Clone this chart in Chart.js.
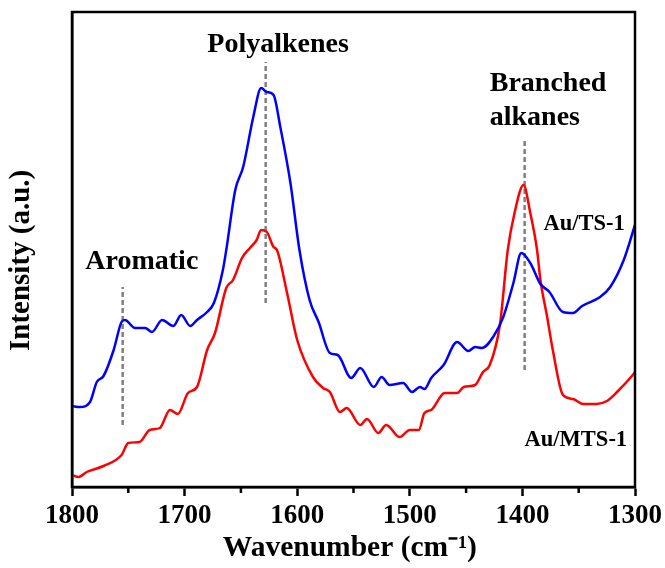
<!DOCTYPE html>
<html>
<head>
<meta charset="utf-8">
<script src="https://cdn.jsdelivr.net/npm/chart.js@4.4.0/dist/chart.umd.min.js"></script>
<style>
  html, body { margin: 0; padding: 0; background: #fff; }
</style>
</head>
<body>
<canvas id="chartIR" width="665" height="568"></canvas>
<script>
/* IR spectra Au/TS-1 vs Au/MTS-1 */
const serif = "'Liberation Serif', 'Times New Roman', serif";

// Au/TS-1 (blue)
const tsWave = [1800, 1793, 1784, 1778, 1772, 1763, 1756, 1753, 1744, 1735, 1729, 1720, 1710, 1703, 1695, 1689,
  1680, 1674, 1666, 1663, 1655, 1648, 1639, 1632, 1627, 1621, 1615, 1606, 1598, 1589, 1581, 1571, 1564, 1552,
  1544, 1532, 1525, 1518, 1506, 1498, 1491, 1487, 1481, 1470, 1458, 1448, 1442, 1436, 1426, 1417, 1408, 1401,
  1393, 1384, 1376, 1364, 1355, 1347, 1331, 1322, 1310, 1300];
const tsInt = [81, 80, 85, 105, 111, 137, 165, 167, 159, 159, 155, 167, 161, 172, 161, 167,
  175, 184, 217, 237, 297, 320, 370, 399, 395, 392, 360, 304, 237, 187, 165, 134, 132, 109,
  119, 100, 110, 102, 104, 95, 100, 98, 109, 122, 145, 136, 140, 139, 150, 170, 204, 234,
  224, 203, 195, 175, 174, 181, 190, 200, 227, 262];

// Au/MTS-1 (red)
const mtsWave = [1800, 1794, 1787, 1772, 1756, 1750, 1740, 1731, 1722, 1713, 1706, 1697, 1689, 1680, 1673, 1663,
  1657, 1649, 1642, 1636, 1632, 1627, 1621, 1618, 1609, 1600, 1586, 1577, 1571, 1562, 1556, 1544, 1538, 1528,
  1521, 1509, 1500, 1492, 1487, 1481, 1469, 1458, 1452, 1442, 1435, 1429, 1420, 1413, 1407, 1399, 1393, 1387,
  1384, 1378, 1373, 1364, 1355, 1346, 1334, 1325, 1316, 1302, 1300];
const mtsInt = [12, 10, 15, 21, 32, 44, 45, 57, 59, 77, 73, 94, 100, 137, 154, 199,
  207, 229, 239, 247, 257, 255, 240, 237, 194, 147, 110, 99, 95, 75, 79, 62, 68, 54,
  62, 50, 57, 57, 74, 77, 94, 94, 100, 102, 115, 122, 162, 237, 274, 302, 274, 237,
  207, 170, 137, 92, 88, 83, 83, 86, 95, 112, 115];

// band markers
const bandNames = ['Aromatic', 'Polyalkenes', 'Branched alkanes'];
const bandWave = [1755, 1628, 1398];
const bandFrom = [62, 184, 117];
const bandTo = [200, 425, 347];

const xTicks = [1800, 1700, 1600, 1500, 1400, 1300];
const minorTicks = [1750, 1650, 1550, 1450, 1350];

const toPoints = (w, v) => w.map((x, i) => ({ x: x, y: v[i] }));

let datasets = [
  { label: 'Au/TS-1', data: toPoints(tsWave, tsInt), borderColor: '#0000ff', borderWidth: 2.5,
    pointRadius: 0, cubicInterpolationMode: 'monotone' },
  { label: 'Au/MTS-1', data: toPoints(mtsWave, mtsInt), borderColor: '#ff0000', borderWidth: 2.5,
    pointRadius: 0, cubicInterpolationMode: 'monotone' }
];
bandWave.forEach((w, i) => {
  datasets.push({
    label: bandNames[i],
    data: [{ x: w, y: bandFrom[i] }, { x: w, y: bandTo[i] }],
    borderColor: '#808080', borderWidth: 2.5, borderDash: [5, 3], pointRadius: 0
  });
});

// text labels: [text, wave, intensity, align, size]
const notes = [
  ['Aromatic', 1738, 225, 'center', 28],
  ['Polyalkenes', 1617, 442, 'center', 28],
  ['Branched', 1429, 403, 'left', 28],
  ['alkanes', 1429, 369, 'left', 28],
  ['Au/TS-1', 1309, 263, 'right', 22.5],
  ['Au/MTS-1', 1307, 47, 'right', 22.5]
];

const framePlugin = {
  id: 'frame',
  afterDatasetsDraw(chart) {
    const { ctx, chartArea: a, scales: { x, y } } = chart;
    ctx.save();
    ctx.strokeStyle = '#000';
    ctx.lineWidth = 2.5;
    ctx.strokeRect(a.left, a.top, a.right - a.left, a.bottom - a.top);
    minorTicks.forEach(v => {
      const px = x.getPixelForValue(v);
      ctx.beginPath();
      ctx.moveTo(px, a.bottom);
      ctx.lineTo(px, a.bottom + 6);
      ctx.stroke();
    });
    ctx.fillStyle = '#000';
    ctx.textBaseline = 'middle';
    notes.forEach(n => {
      ctx.font = 'bold ' + n[4] + 'px ' + serif;
      ctx.textAlign = n[3];
      ctx.fillText(n[0], x.getPixelForValue(n[1]), y.getPixelForValue(n[2]));
    });
    ctx.restore();
  }
};

const ctx = document.getElementById('chartIR').getContext('2d');
const myChart = new Chart(ctx, {
  type: 'line',
  data: { datasets: datasets },
  plugins: [framePlugin],
  options: {
    responsive: false,
    animation: false,
    layout: { padding: { top: 12, right: 30, left: 0, bottom: 0 } },
    plugins: { legend: { display: false }, tooltip: { enabled: false } },
    scales: {
      x: {
        type: 'linear',
        reverse: true,
        min: 1300,
        max: 1800,
        afterBuildTicks: (s) => { s.ticks = xTicks.map(v => ({ value: v })); },
        afterFit: (s) => { s.height = 81; s.paddingLeft = 0; s.paddingRight = 0; },
        ticks: {
          color: '#000',
          padding: 4,
          callback: (v) => String(v),
          font: { family: serif, size: 27, weight: 'bold' }
        },
        grid: {
          drawOnChartArea: false,
          drawTicks: true,
          tickLength: 9,
          tickWidth: 2.5,
          tickColor: '#000'
        },
        border: { display: true, color: '#000', width: 2.5 },
        title: {
          display: true,
          text: 'Wavenumber (cm\u207B\u00B9) ',
          color: '#000',
          padding: { top: 0, bottom: 2 },
          font: { family: serif, size: 29.5, weight: 'bold' }
        }
      },
      y: {
        min: 0,
        max: 475,
        afterFit: (s) => { s.width = 72; },
        ticks: { display: false },
        grid: { display: false },
        border: { display: true, color: '#000', width: 2.5 },
        title: {
          display: true,
          text: 'Intensity (a.u.)   ',
          color: '#000',
          padding: { top: 4, bottom: 0 },
          font: { family: serif, size: 29, weight: 'bold' }
        }
      }
    }
  }
});
</script>
</body>
</html>
